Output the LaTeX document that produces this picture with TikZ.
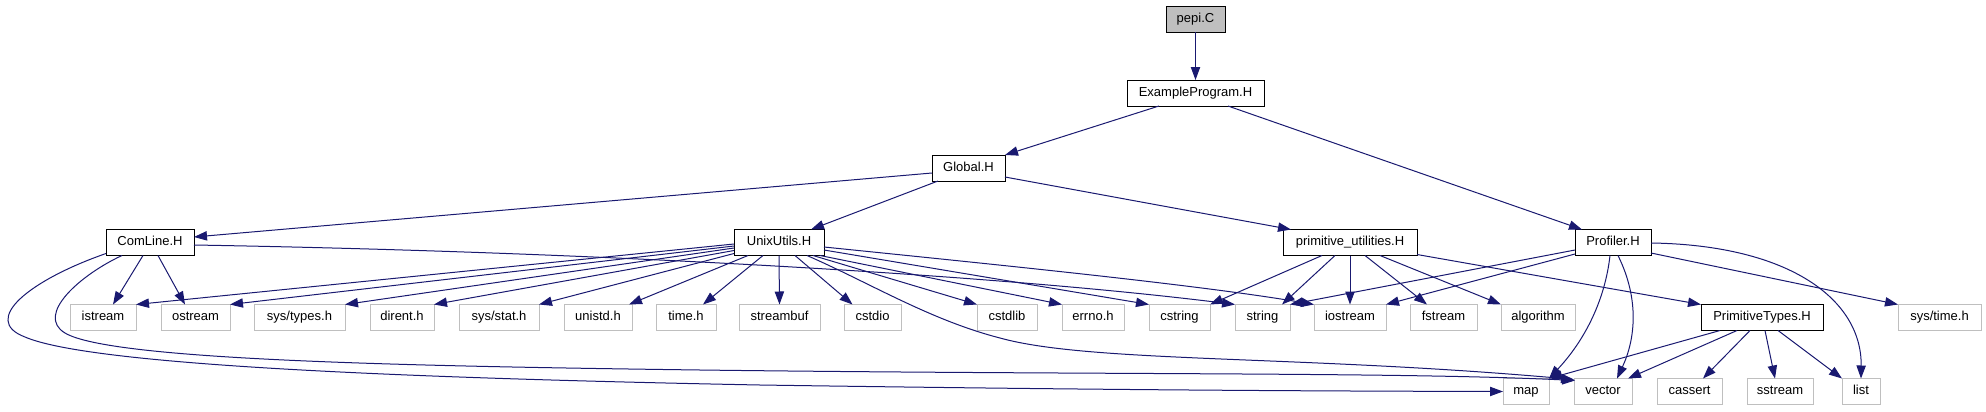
\documentclass[tikz,border=0pt]{standalone}
\usepackage{fontspec}
\setmainfont{Liberation Sans}
\usetikzlibrary{arrows.meta,calc}
\definecolor{edgec}{HTML}{191970}
\definecolor{extc}{HTML}{BFBFBF}
\definecolor{rootc}{HTML}{BFBFBF}
\tikzset{
  doc/.style={rectangle, draw=black, fill=white, line width=0.75pt, minimum height=19.5pt,
    inner sep=0pt, outer sep=0pt, text height=7pt, text depth=1.9pt,
    font=\fontsize{9.75pt}{11pt}\selectfont},
  ext/.style={doc, draw=extc},
  root/.style={doc, fill=rootc},
  dep/.style={draw=edgec, line width=0.75pt, -{Triangle[length=9.75pt,width=7pt]}}
}
\newcommand{\bx}[6]{\node[#1, minimum width={(#4-#3)*0.75pt}] (#2) at ({(#3+#4)/2},#5) {#6};}
\begin{document}
\begin{tikzpicture}[x=0.75pt,y=-0.75pt]
\useasboundingbox (0,0) rectangle (1986,411);
% row 0
\bx{root}{pepi}{1166}{1225}{19}{pepi.C}
% row 1
\bx{doc}{ex}{1127}{1264}{93}{ExampleProgram.H}
% row 2
\bx{doc}{gl}{932}{1005}{168}{Global.H}
% row 3
\bx{doc}{cl}{106}{194}{242.5}{ComLine.H}
\bx{doc}{uu}{734}{824}{242.5}{UnixUtils.H}
\bx{doc}{pu}{1283}{1417}{242.5}{primitive\_utilities.H}
\bx{doc}{pr}{1575}{1651}{242.5}{Profiler.H}
% row 4
\bx{ext}{is}{70}{136}{317.5}{istream}
\bx{ext}{os}{161}{230}{317.5}{ostream}
\bx{ext}{st}{254}{345}{317.5}{sys/types.h}
\bx{ext}{di}{370}{434}{317.5}{dirent.h}
\bx{ext}{ss}{459}{539}{317.5}{sys/stat.h}
\bx{ext}{un}{564}{632}{317.5}{unistd.h}
\bx{ext}{th}{656}{716}{317.5}{time.h}
\bx{ext}{sb}{739}{820}{317.5}{streambuf}
\bx{ext}{cio}{844}{901}{317.5}{cstdio}
\bx{ext}{clb}{977}{1037}{317.5}{cstdlib}
\bx{ext}{er}{1062}{1124}{317.5}{errno.h}
\bx{ext}{cs}{1149}{1210}{317.5}{cstring}
\bx{ext}{str}{1235}{1290}{317.5}{string}
\bx{ext}{io}{1314}{1386}{317.5}{iostream}
\bx{ext}{fs}{1410}{1477}{317.5}{fstream}
\bx{ext}{al}{1501}{1575}{317.5}{algorithm}
\bx{doc}{pt}{1701}{1823}{317.5}{PrimitiveTypes.H}
\bx{ext}{sti}{1898}{1981}{317.5}{sys/time.h}
% row 5
\bx{ext}{mp}{1503}{1549}{391.5}{map}
\bx{ext}{vc}{1574}{1632}{391.5}{vector}
\bx{ext}{ca}{1657}{1722}{391.5}{cassert}
\bx{ext}{sst}{1747}{1813}{391.5}{sstream}
\bx{ext}{li}{1842}{1880}{391.5}{list}

% top edges
\draw[dep] (pepi) -- (ex);
\draw[dep] ($(ex.south)+(-36.5,0)$) -- (gl.north east);
\draw[dep] ($(ex.south)+(32.5,0)$) -- ($(pr.north west)+(7,0)$);
\draw[dep] ($(gl.west)+(0,5)$) -- ($(cl.east)+(0,-5.5)$);
\draw[dep] ($(gl.south west)+(6,0)$) -- ($(uu.north)+(32,0)$);
\draw[dep] ($(gl.east)+(0,9)$) -- ($(pu.north west)+(8,0)$);

% ComLine
\draw[dep] ($(cl.south)+(-7,0)$) -- ($(is.north)+(10,0)$);
\draw[dep] ($(cl.south)+(8,0)$) -- ($(os.north)+(-10.5,0)$);
\draw[dep] ($(cl.east)+(0,2.5)$) .. controls (600,252) and (1000,275) .. (str.north west);
\draw[dep] ($(cl.south west)+(0,-2)$) .. controls (30,280) and (-20,320) .. (25,337)
  .. controls (90,365) and (400,378) .. (760,385)
  .. controls (1100,390) and (1300,391) .. (mp.west);
\draw[dep] ($(cl.south)+(-28,0)$) .. controls (80,275) and (35,315) .. (65,333)
  .. controls (110,360) and (400,366) .. (700,370)
  .. controls (1100,375) and (1400,372) .. ($(vc.north west)+(1,2)$);

% UnixUtils
\draw[dep] ($(uu.north west)+(0,14.5)$) -- (is.north east);
\draw[dep] ($(uu.north west)+(0,16.5)$) -- (os.north east);
\draw[dep] ($(uu.north west)+(0,18.5)$) -- (st.north east);
\draw[dep] ($(uu.north west)+(0,21)$) -- (di.north east);
\draw[dep] ($(uu.north west)+(0,24)$) -- (ss.north east);
\draw[dep] ($(uu.south west)+(14,0)$) -- ($(un.north east)+(-3,0)$);
\draw[dep] ($(uu.south west)+(29,0)$) -- ($(th.north)+(17,0)$);
\draw[dep] (uu.south) -- (sb.north);
\draw[dep] ($(uu.south)+(16,0)$) -- ($(cio.north)+(-20,0)$);
\draw[dep] ($(uu.south)+(34,0)$) -- (clb.north west);
\draw[dep] ($(uu.south east)+(-4,0)$) -- (er.north west);
\draw[dep] ($(uu.east)+(0,7.5)$) -- (cs.north west);
\draw[dep] ($(uu.east)+(0,4.5)$) .. controls (1000,265) and (1200,285) .. (io.north west);
\draw[dep] ($(uu.south)+(28,0)$) .. controls (870,283) and (930,320) .. (1000,338)
  .. controls (1090,363) and (1300,355) .. ($(vc.north west)+(0,1)$);

% primitive_utilities
\draw[dep] ($(pu.south)+(-28,0)$) -- (cs.north east);
\draw[dep] ($(pu.south)+(-15,0)$) -- ($(str.north)+(19.5,0)$);
\draw[dep] (pu.south) -- (io.north);
\draw[dep] ($(pu.south)+(15,0)$) -- ($(fs.north)+(-16.5,0)$);
\draw[dep] ($(pu.south)+(30,0)$) -- (al.north west);
\draw[dep] ($(pu.south east)+(0,-1)$) -- (pt.north west);

% Profiler
\draw[dep] ($(pr.west)+(0,7.5)$) -- (str.north east);
\draw[dep] ($(pr.south west)+(0,-1.5)$) -- (io.north east);
\draw[dep] ($(pr.south)+(-3,0)$) .. controls (1605,300) and (1585,340) .. (mp.north east);
\draw[dep] ($(pr.south)+(5,0)$) .. controls (1640,300) and (1635,340) .. ($(vc.north)+(14,0)$);
\draw[dep] ($(pr.east)+(0,0.5)$) .. controls (1790,245) and (1862,300) .. (li.north);
\draw[dep] ($(pr.east)+(0,10.5)$) -- (sti.north west);

% PrimitiveTypes
\draw[dep] ($(pt.south west)+(19,0)$) -- (mp.north east);
\draw[dep] ($(pt.south)+(-25,0)$) -- ($(vc.north east)+(-4,0)$);
\draw[dep] ($(pt.south)+(-12,0)$) -- ($(ca.north)+(13.5,0)$);
\draw[dep] ($(pt.south)+(3,0)$) -- ($(sst.north)+(-5,0)$);
\draw[dep] ($(pt.south)+(16,0)$) -- (li.north west);
\end{tikzpicture}
\end{document}
